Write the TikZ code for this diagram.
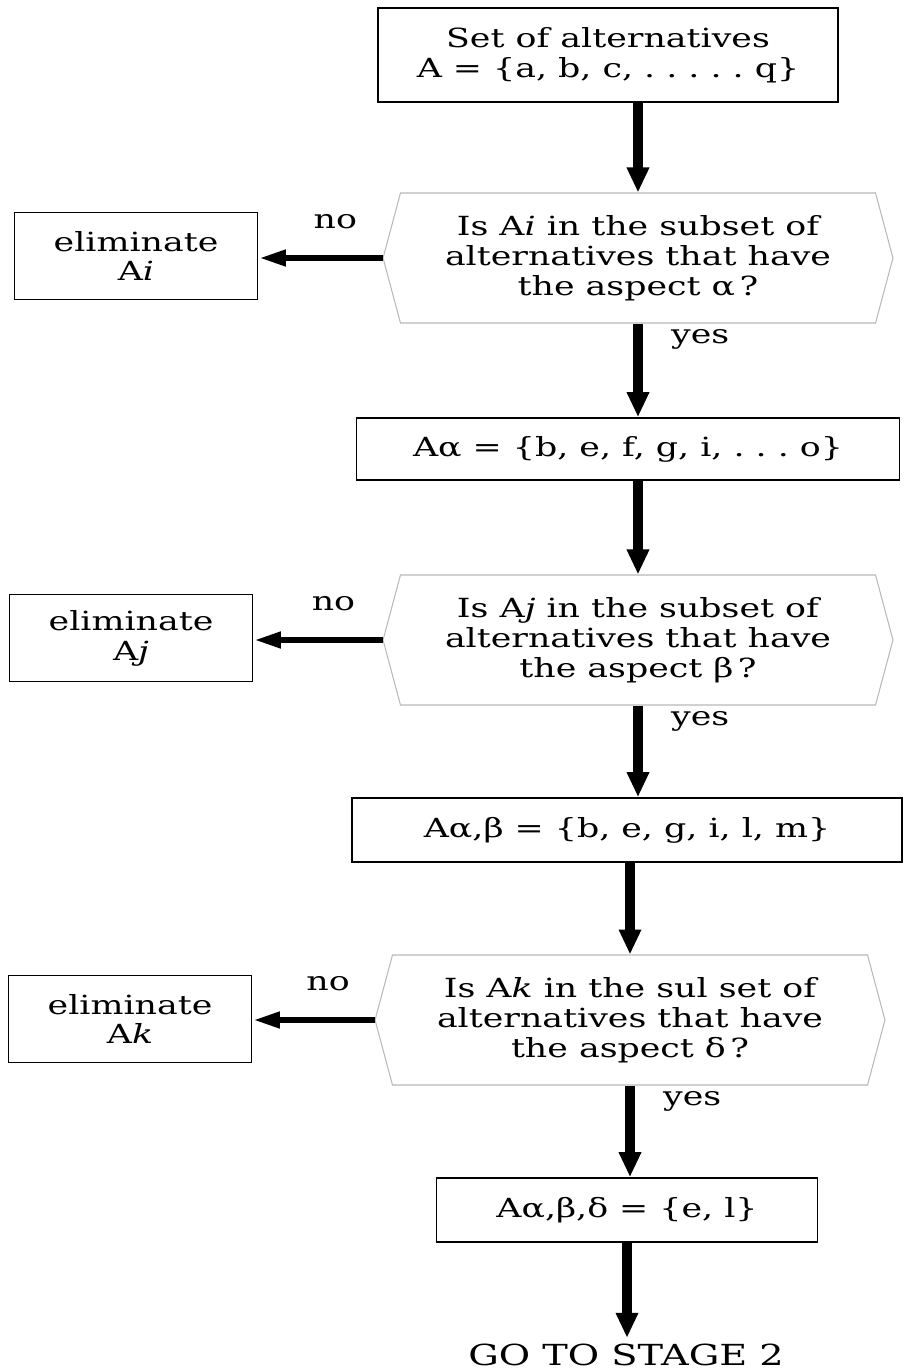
\documentclass[tikz,border=0pt]{standalone}
\usepackage{fontspec}
\setmainfont{DejaVu Serif}[FakeStretch=1.32]
\usetikzlibrary{positioning, arrows.meta, shapes.symbols}

\begin{document}
\begin{tikzpicture}[x=0.02cm, y=-0.02cm,
      every node/.style={font=\fontsize{15}{17}\selectfont},
      box/.style={rectangle, draw=black, line width=1pt, align=center, inner sep=0pt},
      query/.style={signal, signal to=west and east, signal pointer angle=150, draw=gray!55, line width=0.6pt, align=center, minimum width=10.2cm, minimum height=2.6cm, inner sep=0pt},
      elim/.style={box, minimum width=4.86cm, minimum height=1.74cm},
      arrow/.style={line width=5.5pt, -{Triangle[length=0.5cm, width=0.42cm]}},
      noarrow/.style={line width=3.8pt, -{Triangle[length=0.55cm, width=0.3cm]}}
   ]
      \useasboundingbox (0,0) rectangle (905,1372);

      % Main column
      \node (set)  [box, minimum width=9.2cm, minimum height=1.88cm] at (608,55)
         {Set of alternatives\\A = \{a, b, c, .~.~.~.~.~q\}};
      \node (q1)   [query] at (638,258)
         {Is A\textit{i} in the subset of\\alternatives that have\\the aspect α\,?};
      \node (sa)   [box, minimum width=10.86cm, minimum height=1.24cm] at (628,449)
         {Aα = \{b, e, f, g, i, .~.~.~o\}};
      \node (q2)   [query] at (638,640)
         {Is A\textit{j} in the subset of\\alternatives that have\\the aspect β\,?};
      \node (sab)  [box, minimum width=11cm, minimum height=1.28cm] at (627,830)
         {Aα,β = \{b, e, g, i, l, m\}};
      \node (q3)   [query] at (630,1020)
         {Is A\textit{k} in the sul set of\\alternatives that have\\the aspect δ\,?};
      \node (sabd) [box, minimum width=7.62cm, minimum height=1.28cm] at (627,1210)
         {Aα,β,δ = \{e, l\}};
      \node (stage) [font=\fontsize{16.5}{18}\selectfont] at (626,1355) {GO TO STAGE 2};

      % Eliminations on the left
      \node (elimA) [elim] at (136,256) {eliminate\\A\textit{i}};
      \node (elimB) [elim] at (131,638) {eliminate\\A\textit{j}};
      \node (elimC) [elim] at (130,1019) {eliminate\\A\textit{k}};

      % Downward arrows
      \draw[arrow] (set.south -| q1.north) -- (q1.north);
      \draw[arrow] (q1.south) -- (q1.south |- sa.north)
         node[pos=0.17, right=0.45cm] {yes};
      \draw[arrow] (sa.south -| q2.north) -- (q2.north);
      \draw[arrow] (q2.south) -- (q2.south |- sab.north)
         node[pos=0.17, right=0.45cm] {yes};
      \draw[arrow] (sab.south -| q3.north) -- (q3.north);
      \draw[arrow] (q3.south) -- (q3.south |- sabd.north)
         node[pos=0.17, right=0.45cm] {yes};
      \draw[arrow] (sabd.south) -- (sabd.south |- stage.north);

      % "no" branches
      \draw[noarrow] (q1.west) -- (q1.west -| elimA.east) node[pos=0.38, above=0.4cm] {no};
      \draw[noarrow] (q2.west) -- (q2.west -| elimB.east) node[pos=0.38, above=0.4cm] {no};
      \draw[noarrow] (q3.west) -- (q3.west -| elimC.east) node[pos=0.38, above=0.4cm] {no};
   \end{tikzpicture}
\end{document}
